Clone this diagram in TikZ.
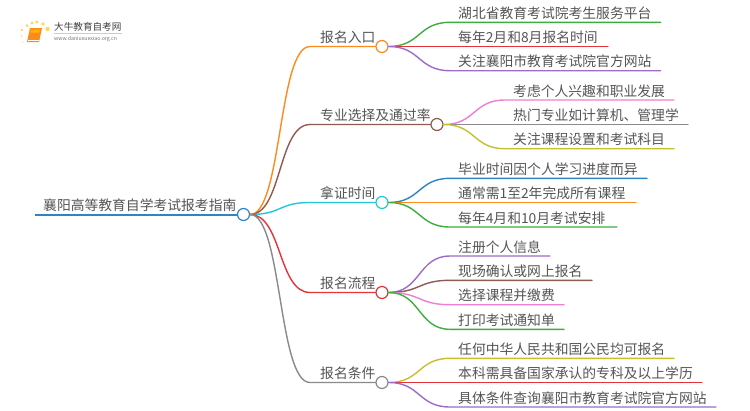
\documentclass[tikz,border=0pt]{standalone}
\usepackage{fontspec}
\setmainfont{Noto Sans CJK SC}
\usepackage{xcolor}
\definecolor{cOrange}{HTML}{FF8A1C}
\definecolor{cBrown}{HTML}{8F5A50}
\definecolor{cCyan}{HTML}{22C7DA}
\definecolor{cRed}{HTML}{E4343A}
\definecolor{cGray}{HTML}{8A8A8A}
\definecolor{cGreen}{HTML}{3DAE3D}
\definecolor{cPurple}{HTML}{9D6CC9}
\definecolor{cPink}{HTML}{EC80D2}
\definecolor{cOlive}{HTML}{C6BF30}
\definecolor{cBlue}{HTML}{2F84C6}
\definecolor{cText}{HTML}{555555}
\tikzset{
	lbl/.style={anchor=base west, inner sep=0pt, yshift=-1.2pt, text=cText, font=\fontsize{13.8}{16}\selectfont},
	hub/.style={draw, circle, fill=white, line width=1.2pt, minimum size=12pt, inner sep=0pt},
	link/.style={line width=1.4pt},
	branch/.style={link, line cap=round},
}
\begin{document}
\begin{tikzpicture}[x=1pt, y=-1pt]
	\useasboundingbox (0,0) rectangle (750,410);
	\fill[white] (0,0) rectangle (750,410);

	\fill[cOrange!55] (22,30) circle (1.2);
	\fill[cOrange!50!yellow!70] (27,25.5) circle (1.5);
	\fill[cOrange!50!yellow!70] (32,23) circle (1.6);
	\fill[cOrange!50!yellow!70] (37,22) circle (1.7);
	\fill[cOrange!50!yellow!70] (43,24) circle (1.9);
	\fill[cOrange!50!yellow!70] (47.5,29) circle (2.2);
	\fill[cOrange!35] (21.5,36) circle (1);
	\fill[cOrange!25] (23,42) circle (0.9);
	\fill[cOrange] (30,28) -- (42,28) -- (39,42) -- (27,42) -- cycle;
	\fill[orange!60!yellow] (31,29.5) -- (40,29.5) -- (39.4,32.5) -- (30.4,32.5) -- cycle;
	\draw[white, line width=.5pt] (28,40) -- (39,40);
	\node (logo) [anchor=base west, inner sep=0pt, text=black!75, font=\fontsize{9.6}{11}\selectfont] at (54,30.5) {大牛教育自考网};
	\draw[black!20, line width=.4pt] (54,33.5) -- (122,33.5);
	\node (url) [anchor=base west, inner sep=0pt, text=black!55, font=\fontsize{5.2}{6}\selectfont] at (54,40.5) {www.daniuxuexiao.org.cn};

	\coordinate (r0) at (35,214.5);
	\node (r) [hub, draw=cBlue] at (243.5,214.5) {};

	\coordinate (s1) at (310,46.5);
	\coordinate (s2) at (310,124.5);
	\coordinate (s3) at (310,202.5);
	\coordinate (s4) at (310,292.5);
	\coordinate (s5) at (310,382.5);
	\node (b1) [hub, draw=cOrange] at (382,46.5) {};
	\node (b2) [hub, draw=cBrown] at (437,124.5) {};
	\node (b3) [hub, draw=cCyan] at (382,202.5) {};
	\node (b4) [hub, draw=cRed] at (382,292.5) {};
	\node (b5) [hub, draw=cGray] at (382,382.5) {};

	\coordinate (a1s) at (450,22.3);
	\coordinate (a1e) at (660.5,22.3);
	\coordinate (a2s) at (450,46.5);
	\coordinate (a2e) at (608,46.5);
	\coordinate (a3s) at (450,70.7);
	\coordinate (a3e) at (660.5,70.7);
	\coordinate (c1s) at (505,100);
	\coordinate (c1e) at (674,100);
	\coordinate (c2s) at (505,124.5);
	\coordinate (c2e) at (688,124.5);
	\coordinate (c3s) at (505,148.7);
	\coordinate (c3e) at (674,148.7);
	\coordinate (d1s) at (450,178.3);
	\coordinate (d1e) at (647,178.3);
	\coordinate (d2s) at (450,202.5);
	\coordinate (d2e) at (636,202.5);
	\coordinate (d3s) at (450,227);
	\coordinate (d3e) at (617,227);
	\coordinate (e1s) at (450,256);
	\coordinate (e1e) at (550,256);
	\coordinate (e2s) at (450,280.3);
	\coordinate (e2e) at (592,280.3);
	\coordinate (e3s) at (450,304.7);
	\coordinate (e3e) at (564,304.7);
	\coordinate (e4s) at (450,329.3);
	\coordinate (e4e) at (564,329.3);
	\coordinate (f1s) at (450,358.3);
	\coordinate (f1e) at (674,358.3);
	\coordinate (f2s) at (450,382.5);
	\coordinate (f2e) at (702,382.5);
	\coordinate (f3s) at (450,407);
	\coordinate (f3e) at (716,407);

	\draw[branch, cOrange] (r.east) .. controls +(32,0) and +(-32,0) .. (s1) -- (b1);
	\draw[branch, cBrown] (r.east) .. controls +(32,0) and +(-32,0) .. (s2) -- (b2);
	\draw[branch, cCyan] (r.east) .. controls +(32,0) and +(-32,0) .. (s3) -- (b3);
	\draw[branch, cRed] (r.east) .. controls +(32,0) and +(-32,0) .. (s4) -- (b4);
	\draw[branch, cGray] (r.east) .. controls +(32,0) and +(-32,0) .. (s5) -- (b5);
	\draw[line width=2pt, cBlue] (r0) -- (r);

	\draw[branch, cGreen] (b1.east) .. controls +(32,0) and +(-32,0) .. (a1s) -- (a1e);
	\draw[branch, cRed] (b1.east) -- (a2s) -- (a2e);
	\draw[branch, cPurple] (b1.east) .. controls +(32,0) and +(-32,0) .. (a3s) -- (a3e);
	\draw[branch, cPink] (b2.east) .. controls +(32,0) and +(-32,0) .. (c1s) -- (c1e);
	\draw[branch, cGray] (b2.east) -- (c2s) -- (c2e);
	\draw[branch, cOlive] (b2.east) .. controls +(32,0) and +(-32,0) .. (c3s) -- (c3e);
	\draw[branch, cBlue] (b3.east) .. controls +(32,0) and +(-32,0) .. (d1s) -- (d1e);
	\draw[branch, cOrange] (b3.east) -- (d2s) -- (d2e);
	\draw[branch, cGreen] (b3.east) .. controls +(32,0) and +(-32,0) .. (d3s) -- (d3e);
	\draw[branch, cPurple] (b4.east) .. controls +(32,0) and +(-32,0) .. (e1s) -- (e1e);
	\draw[branch, cBrown] (b4.east) .. controls +(32,0) and +(-32,0) .. (e2s) -- (e2e);
	\draw[branch, cPink] (b4.east) .. controls +(32,0) and +(-32,0) .. (e3s) -- (e3e);
	\draw[branch, cGreen] (b4.east) .. controls +(32,0) and +(-32,0) .. (e4s) -- (e4e);
	\draw[branch, cOlive] (b5.east) .. controls +(32,0) and +(-32,0) .. (f1s) -- (f1e);
	\draw[branch, cRed] (b5.east) -- (f2s) -- (f2e);
	\draw[branch, cPurple] (b5.east) .. controls +(32,0) and +(-32,0) .. (f3s) -- (f3e);

	\node (root) [lbl] at (43,209) {襄阳高等教育自学考试报考指南};
	\node (t1) [lbl] at (320,41) {报名入口};
	\node (t2) [lbl] at (320,119) {专业选择及通过率};
	\node (t3) [lbl] at (320,197) {拿证时间};
	\node (t4) [lbl] at (320,287) {报名流程};
	\node (t5) [lbl] at (320,377) {报名条件};

	\node (a1) [lbl] at (458,17) {湖北省教育考试院考生服务平台};
	\node (a2) [lbl] at (458,41) {每年2月和8月报名时间};
	\node (a3) [lbl] at (458,65.5) {关注襄阳市教育考试院官方网站};
	\node (c1) [lbl] at (513,95) {考虑个人兴趣和职业发展};
	\node (c2) [lbl] at (513,119) {热门专业如计算机、管理学};
	\node (c3) [lbl] at (513,143.5) {关注课程设置和考试科目};
	\node (d1) [lbl] at (458,173) {毕业时间因个人学习进度而异};
	\node (d2) [lbl] at (458,197) {通常需1至2年完成所有课程};
	\node (d3) [lbl] at (458,222) {每年4月和10月考试安排};
	\node (e1) [lbl] at (458,251) {注册个人信息};
	\node (e2) [lbl] at (458,275) {现场确认或网上报名};
	\node (e3) [lbl] at (458,299.5) {选择课程并缴费};
	\node (e4) [lbl] at (458,324) {打印考试通知单};
	\node (f1) [lbl] at (458,353) {任何中华人民共和国公民均可报名};
	\node (f2) [lbl] at (458,377) {本科需具备国家承认的专科及以上学历};
	\node (f3) [lbl] at (458,402) {具体条件查询襄阳市教育考试院官方网站};
\end{tikzpicture}
\end{document}
